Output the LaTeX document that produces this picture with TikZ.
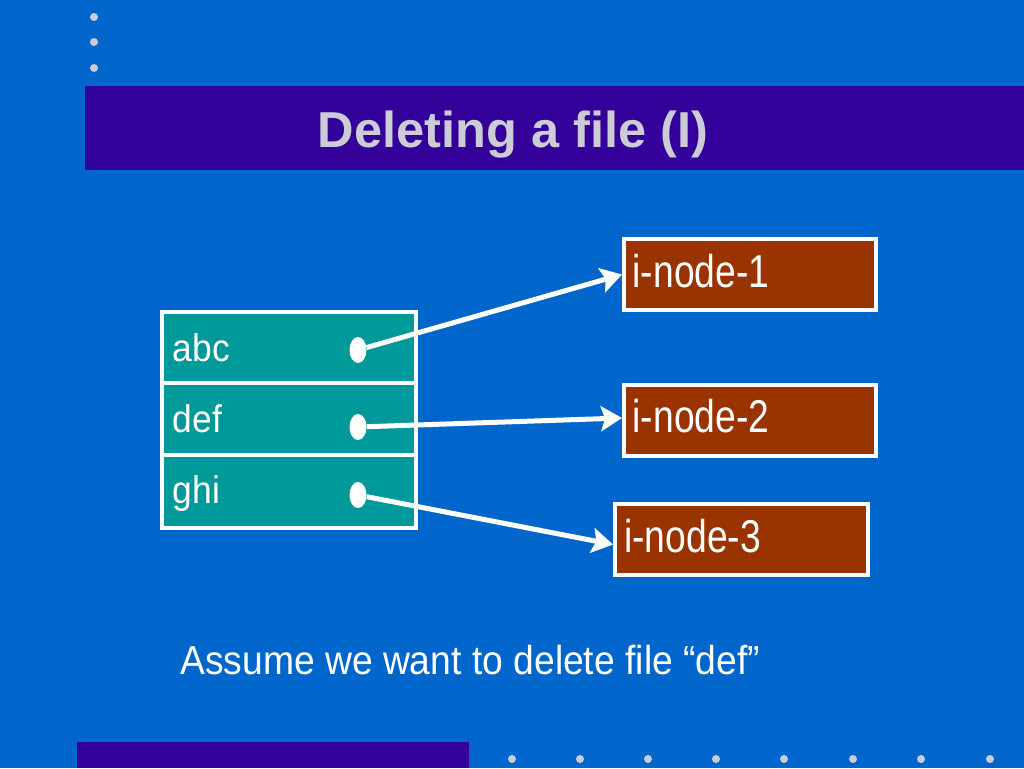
\documentclass[tikz,border=0pt]{standalone}
\usepackage{fontspec}
\setmainfont{Liberation Sans}
\newfontfamily\titlefont{Liberation Sans}
\newfontfamily\rowfont[FakeStretch=0.92]{Liberation Sans}
\newfontfamily\inodefont[FakeStretch=0.81]{Liberation Sans}
\newfontfamily\notefont[FakeStretch=0.92]{Liberation Sans}
\usetikzlibrary{shapes.geometric,arrows.meta}
\definecolor{bg}{RGB}{0,102,204}
\definecolor{barcol}{RGB}{51,0,153}
\definecolor{rowteal}{RGB}{0,153,153}
\definecolor{brick}{RGB}{153,51,0}
\definecolor{pale}{RGB}{204,204,214}
\begin{document}
\begin{tikzpicture}[x=1pt,y=-1pt,
  rowbox/.style={rectangle,draw=white,line width=4pt,fill=rowteal,minimum width=254pt,inner sep=0pt},
  inodebox/.style={rectangle,draw=white,line width=4pt,fill=brick,minimum height=71pt,inner sep=0pt},
  rowtext/.style={anchor=base west,inner sep=0pt,text=white,font=\rowfont\fontsize{38.5}{40}\selectfont},
  inodetext/.style={anchor=base west,inner sep=0pt,text=white,font=\inodefont\fontsize{46}{48}\selectfont},
  ptr/.style={ellipse,fill=white,minimum width=17pt,minimum height=26pt,inner sep=0pt},
  link/.style={draw=white,line width=5pt,-{Stealth[length=21pt,width=25pt,inset=4pt]}},
  deco/.style={fill=pale}]
\useasboundingbox (0,0) rectangle (1024,768);
\fill[bg] (0,0) rectangle (1024,768);
% title bar and bottom bar
\fill[barcol] (85,86) rectangle (1024,170);
\fill[barcol] (77,742) rectangle (469,768);
% decorative dots
\foreach \yy in {17,42,68} \fill[deco] (94,\yy) circle (4pt);
\foreach \xx in {512,580,648,716,784,853,921,990} \fill[deco] (\xx,759) circle (4pt);
% title
\node[anchor=base,inner sep=0pt,text=pale,font=\titlefont\bfseries\fontsize{50.5}{54}\selectfont] (title) at (513,147) {Deleting a file (I)};
% directory table
\node[rowbox,minimum height=71pt] (ra) at (289,347.5) {};
\node[rowbox,minimum height=72pt] (rb) at (289,419) {};
\node[rowbox,minimum height=73pt] (rc) at (289,491.5) {};
\node[rowtext] (ta) at (172.5,361) {abc};
\node[rowtext] (tb) at (172.5,432) {def};
\node[rowtext] (tc) at (172.5,503) {ghi};
% i-nodes
\node[inodebox,minimum width=252pt] (in1) at (750,274.5) {};
\node[inodebox,minimum width=252pt] (in2) at (750,420.5) {};
\node[inodebox,minimum width=253pt] (in3) at (741.5,539.5) {};
\node[inodetext] (l1) at (632.5,287.5) {i-node-1};
\node[inodetext] (l2) at (632.5,432) {i-node-2};
\node[inodetext] (l3) at (624,552) {i-node-3};
% pointers
\node[ptr] (d1) at (358,350) {};
\node[ptr] (d2) at (358,427) {};
\node[ptr] (d3) at (358,495) {};
\draw[link] (d1) -- (in1.west);
\draw[link] (d2) -- ([yshift=2.5pt]in2.west);
\draw[link] (d3) -- ([yshift=-5pt]in3.west);
% note
\node[anchor=base west,inner sep=0pt,text=white,font=\notefont\fontsize{40.5}{44}\selectfont] (note) at (180,674) {Assume we want to delete file “def”};
\end{tikzpicture}
\end{document}
